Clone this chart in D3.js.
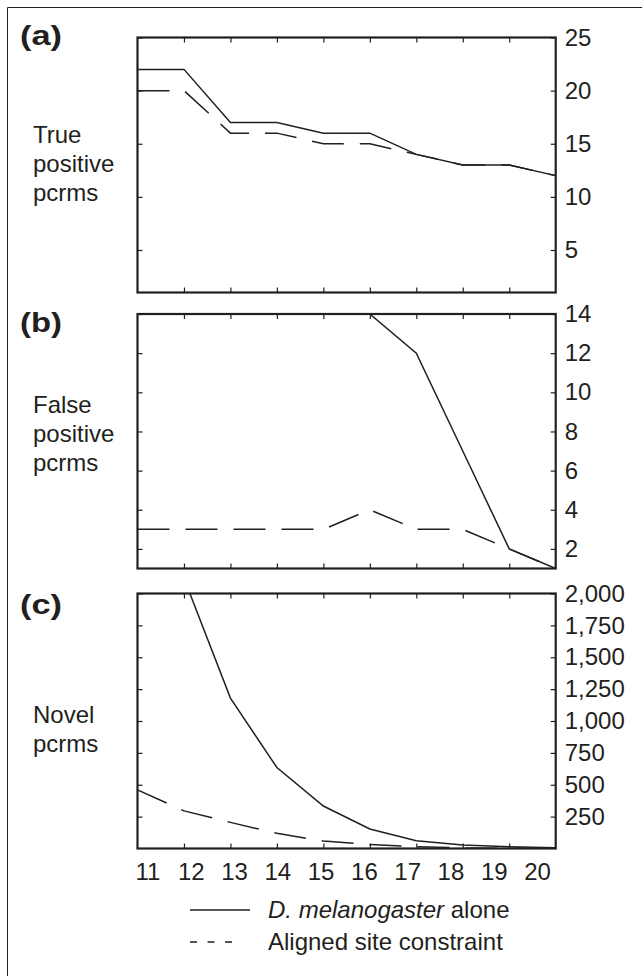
<!DOCTYPE html>
<html>
<head>
<meta charset="utf-8">
<script src="https://cdn.jsdelivr.net/npm/d3@7"></script>
<style>
  body { margin: 0; background: #fff; }
  text { font-family: "Liberation Sans", Arial, Helvetica, sans-serif; fill: #231f20; }
</style>
</head>
<body>
<div id="chart"></div>
<script>
// word lengths on the x axis
var wordLengths = [11, 12, 13, 14, 15, 16, 17, 18, 19, 20];

// (a) true positive pcrms
var trueAlone   = [22, 22, 17, 17, 16, 16, 14, 13, 13, 12];
var trueAligned = [20, 20, 16, 16, 15, 15, 14, 13, 13, 12];
var trueTicks   = [5, 10, 15, 20, 25];

// (b) false positive pcrms (null = off the top of the panel)
var falseAlone   = [null, null, null, null, null, 14, 12, 7, 2, 1];
var falseAligned = [3, 3, 3, 3, 3, 4, 3, 3, 2, 1];
var falseTicks   = [2, 4, 6, 8, 10, 12, 14];

// (c) novel pcrms
var novelAlone   = [null, 2120, 1180, 635, 333, 153, 61, 27, 13, 5];
var novelAligned = [460, 295, 205, 119, 58, 32, 13, 5, 2, 1];
var novelTicks   = [250, 500, 750, 1000, 1250, 1500, 1750, 2000];

var legendLabels = ["D. melanogaster", "Aligned site constraint"];

var W = 642, H = 976;
var ink = "#231f20";
var fontSize = "24px";
var plotLeft = 137.5, plotRight = 555.7;

var svg = d3.select("#chart")
    .append("svg")
    .attr("width", W)
    .attr("height", H);

// outer figure border (only top and left are in view)
svg.append("path")
    .attr("d", "M7.5," + H + "V7.5H" + W)
    .attr("fill", "none")
    .attr("stroke", ink)
    .attr("stroke-width", 1);

var x = d3.scaleLinear().domain([11, 20]).range([plotLeft, plotRight]);

function drawPanel(id, letter, letterY, labelLines, labelY, top, bottom, domain, ticks, fmt, alone, aligned) {
    var y = d3.scaleLinear().domain(domain).range([bottom, top]);
    var g = svg.append("g");

    g.append("clipPath").attr("id", "clip" + id)
        .append("rect")
        .attr("x", plotLeft).attr("y", top)
        .attr("width", plotRight - plotLeft).attr("height", bottom - top);

    // ticks on all four sides, pointing inward
    g.append("g").attr("transform", "translate(" + plotLeft + ",0)")
        .call(d3.axisLeft(y).tickValues(ticks).tickSize(-5).tickFormat(""));
    g.append("g").attr("transform", "translate(" + plotRight + ",0)")
        .call(d3.axisRight(y).tickValues(ticks).tickSize(-5).tickPadding(9).tickFormat(fmt));
    g.append("g").attr("transform", "translate(0," + top + ")")
        .call(d3.axisTop(x).tickValues(wordLengths.slice(1, -1)).tickSize(-5).tickFormat(""));
    g.append("g").attr("transform", "translate(0," + bottom + ")")
        .call(d3.axisBottom(x).tickValues(wordLengths.slice(1, -1)).tickSize(-5).tickFormat(""));

    g.selectAll(".domain").remove();
    g.selectAll(".tick line").attr("stroke", ink).attr("stroke-width", 1.2);
    g.selectAll(".tick text")
        .attr("fill", ink)
        .style("font-size", fontSize)
        .style("font-family", "'Liberation Sans', Arial, sans-serif");

    var line = d3.line()
        .defined(function(d) { return d != null; })
        .x(function(d, i) { return x(wordLengths[i]); })
        .y(function(d) { return y(d); });

    g.append("path")
        .datum(aligned)
        .attr("clip-path", "url(#clip" + id + ")")
        .attr("fill", "none")
        .attr("stroke", ink)
        .attr("stroke-width", 1.5)
        .attr("stroke-dasharray", "32,16")
        .attr("d", line);

    g.append("path")
        .datum(alone)
        .attr("clip-path", "url(#clip" + id + ")")
        .attr("fill", "none")
        .attr("stroke", ink)
        .attr("stroke-width", 1.5)
        .attr("d", line);

    // frame
    g.append("rect")
        .attr("x", plotLeft).attr("y", top)
        .attr("width", plotRight - plotLeft).attr("height", bottom - top)
        .attr("fill", "none")
        .attr("stroke", ink)
        .attr("stroke-width", 2.2);

    g.append("text")
        .attr("x", 20)
        .attr("y", letterY)
        .attr("textLength", 42)
        .attr("lengthAdjust", "spacingAndGlyphs")
        .style("font-size", "28px")
        .style("font-weight", "bold")
        .text(letter);

    labelLines.forEach(function(s, i) {
        g.append("text")
            .attr("x", 33)
            .attr("y", labelY + i * 29)
            .style("font-size", fontSize)
            .text(s);
    });
}

drawPanel("a", "(a)", 44.5, ["True", "positive", "pcrms"], 142.5,
    37.5, 292.5, [1, 25], trueTicks, d3.format("d"), trueAlone, trueAligned);
drawPanel("b", "(b)", 332, ["False", "positive", "pcrms"], 413,
    314, 568.5, [1, 14], falseTicks, d3.format("d"), falseAlone, falseAligned);
drawPanel("c", "(c)", 614, ["Novel", "pcrms"], 722.5,
    593.5, 848.5, [0, 2000], novelTicks, d3.format(","), novelAlone, novelAligned);

// x labels (set slightly inside the tick positions, as in the original figure)
var xLab = d3.scalePoint().domain(wordLengths).range([147.5, 537]);
var xAxis = svg.append("g")
    .attr("transform", "translate(0,848.5)")
    .call(d3.axisBottom(xLab).tickSize(0).tickPadding(14.5));
xAxis.select(".domain").remove();
xAxis.selectAll("text")
    .attr("fill", ink)
    .style("font-size", fontSize)
    .style("font-family", "'Liberation Sans', Arial, sans-serif");

// legend
var legend = svg.append("g");
legend.append("line")
    .attr("x1", 190).attr("x2", 250).attr("y1", 910).attr("y2", 910)
    .attr("stroke", ink).attr("stroke-width", 1.4);
legend.append("line")
    .attr("x1", 190).attr("x2", 232).attr("y1", 942).attr("y2", 942)
    .attr("stroke", ink).attr("stroke-width", 1.4)
    .attr("stroke-dasharray", "7,10.5");

var t1 = legend.append("text").attr("x", 268).attr("y", 918).style("font-size", fontSize);
t1.append("tspan").style("font-style", "italic").text(legendLabels[0]);
t1.append("tspan").text(" alone");
legend.append("text").attr("x", 268).attr("y", 950).style("font-size", fontSize).text(legendLabels[1]);
</script>
</body>
</html>
